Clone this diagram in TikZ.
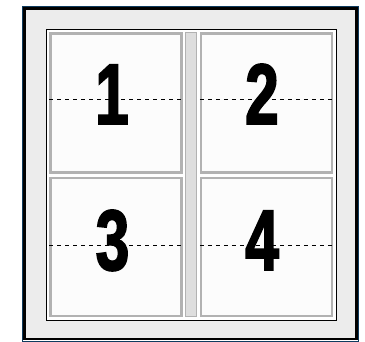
\documentclass[tikz,border=0pt]{standalone}
\usepackage{fontspec}
\setmainfont{Liberation Sans}
\newfontfamily\digitfont[FakeStretch=0.7, RawFeature={embolden=2}]{Liberation Sans Bold}
\usepackage{xcolor}
\usepackage{tikz}
\usetikzlibrary{positioning}
\definecolor{framenavy}{HTML}{0E3B5E}
\definecolor{matgrey}{HTML}{ECECEC}
\definecolor{panelgrey}{HTML}{B2B2B2}
\tikzset{
  frame/.style={draw=black, line width=2.6pt, fill=matgrey},
  mat/.style={draw=black, line width=1.4pt, fill=white},
  panel/.style={draw=panelgrey, line width=2.4pt, fill=black!1,
                minimum width=131pt, minimum height=139pt, inner sep=0pt},
  bar/.style={draw=panelgrey, line width=1.2pt, fill=black!13,
              minimum width=10.5pt, minimum height=283.5pt, inner sep=0pt},
  fold/.style={dash pattern=on 4pt off 4pt, line width=1pt},
  digit/.style={font=\digitfont\fontsize{86}{86}\selectfont, inner sep=0pt, anchor=base}
}

\begin{document}
\begin{tikzpicture}[x=1pt, y=-1pt]
  \useasboundingbox (0,0) rectangle (365,341);
  % frame and mat
  \draw[framenavy, line width=1.4pt] (22.7,6.7) rectangle (358.6,341.6);
  \draw[frame] (24.6,8.6) rectangle (356.6,339);
  \draw[mat] (46.7,29.7) rectangle (336.3,320.3);

  \node[panel] (p1) at (116,103) {};
  \node[panel] (p2) at (266.5,103) {};
  \node[panel, minimum height=138pt] (p3) at (116,247) {};
  \node[panel, minimum height=138pt] (p4) at (266.5,247) {};
  \node[bar] (gutter) at (191,174.5) {};

  % fold lines
  \draw[fold] ([yshift=3.5pt]p1.west) -- ([yshift=3.5pt]p1.east);
  \draw[fold] ([yshift=3.5pt]p2.west) -- ([yshift=3.5pt]p2.east);
  \draw[fold] ([yshift=2pt]p3.west) -- ([yshift=2pt]p3.east);
  \draw[fold] ([yshift=2pt]p4.west) -- ([yshift=2pt]p4.east);

  \node[digit] (n1) at (112,124) {1};
  \node[digit] (n2) at (262,124) {2};
  \node[digit] (n3) at (112.5,270) {3};
  \node[digit] (n4) at (262,270) {4};
\end{tikzpicture}
\end{document}
